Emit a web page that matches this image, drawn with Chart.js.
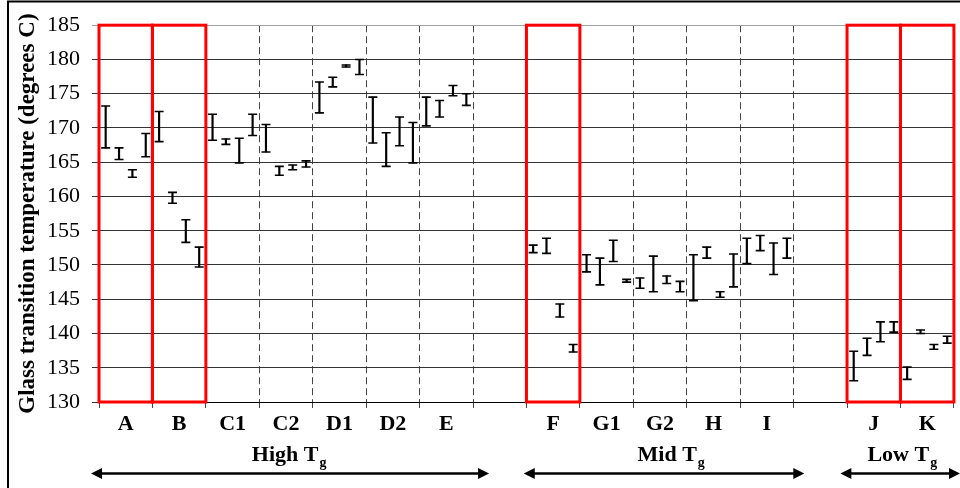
<!DOCTYPE html>
<html>
<head>
<meta charset="utf-8">
<title>Glass transition temperature</title>
<script src="https://cdn.jsdelivr.net/npm/chart.js@4.4.1/dist/chart.umd.min.js"></script>
<style>
  html, body { margin: 0; padding: 0; background: #fff; }
  #wrap { width: 960px; height: 488px; }
</style>
</head>
<body>
<div id="wrap"><canvas id="tgChart" width="960" height="488"></canvas></div>
<script>
// categories along the x axis, '' = empty slot between groups
const categories = ['A', 'B', 'C1', 'C2', 'D1', 'D2', 'E', '', 'F', 'G1', 'G2', 'H', 'I', '', 'J', 'K'];
// categories that get a red box
const boxed = ['A', 'B', 'F', 'J', 'K'];
const groupNames = ['High', 'Mid', 'Low'];

// four measurements per category (low / high end of each bar)
const lows = [
  167.1, 165.4, 162.8, 165.8,   // A
  168.0, 159.0, 153.3, 149.7,   // B
  168.2, 167.6, 164.9, 168.9,   // C1
  166.5, 163.1, 163.9, 164.3,   // C2
  172.2, 176.0, 178.9, 177.8,   // D1
  167.8, 164.4, 167.4, 164.9,   // D2
  170.3, 171.6, 174.7, 173.3,   // E
  null, null, null, null,
  151.8, 151.7, 142.4, 137.3,   // F
  149.0, 147.1, 150.5, 147.5,   // G1
  146.6, 146.1, 147.3, 146.1,   // G2
  144.8, 151.0, 145.3, 146.8,   // H
  150.2, 152.1, 148.6, 151.0,   // I
  null, null, null, null,
  133.1, 136.8, 138.8, 140.2,   // J
  133.3, 140.0, 137.7, 138.6    // K
];
const highs = [
  173.2, 167.1, 163.9, 169.2,   // A
  172.4, 160.6, 156.6, 152.6,   // B
  172.0, 168.4, 168.5, 172.0,   // C1
  170.5, 164.4, 164.6, 165.2,   // C2
  176.7, 177.4, 179.2, 180.0,   // D1
  174.5, 169.3, 171.6, 170.8,   // D2
  174.5, 174.0, 176.2, 175.0,   // E
  null, null, null, null,
  152.9, 153.9, 144.3, 138.4,   // F
  151.5, 151.0, 153.6, 147.9,   // G1
  148.1, 151.3, 148.4, 147.6,   // G2
  151.5, 152.6, 146.1, 151.6,   // H
  153.9, 154.3, 153.2, 153.9,   // I
  null, null, null, null,
  137.4, 139.3, 141.7, 141.7,   // J
  135.1, 140.5, 138.4, 139.6    // K
];
const yTicks = [130, 135, 140, 145, 150, 155, 160, 165, 170, 175, 180, 185];

const SERIF = "'Liberation Serif', 'Times New Roman', serif";
const PER_CAT = 4;

function buildPoints(values) {
  const pts = [];
  values.forEach((v, i) => {
    if (v !== null) pts.push({ x: i + 0.5, y: v });
  });
  return pts;
}

function buildBars() {
  const bars = [];
  lows.forEach((lo, i) => {
    if (lo !== null) bars.push({ x: i + 0.5, y: [lo, highs[i]] });
  });
  return bars;
}

// red boxes, group captions with double arrows, outer frame
const decorPlugin = {
  id: 'decor',
  beforeDraw(chart) {
    const ctx = chart.ctx;
    ctx.save();
    ctx.fillStyle = '#fff';
    ctx.fillRect(0, 0, chart.width, chart.height);
    ctx.strokeStyle = '#000';
    ctx.lineWidth = 2;
    ctx.beginPath();
    ctx.moveTo(8, chart.height);
    ctx.lineTo(8, 1.5);
    ctx.lineTo(chart.width, 1.5);
    ctx.stroke();
    ctx.restore();
  },
  afterDatasetsDraw(chart) {
    const ctx = chart.ctx;
    const xs = chart.scales.x;
    const ys = chart.scales.y;
    const top = ys.getPixelForValue(185);
    const bottom = ys.getPixelForValue(130);
    ctx.save();
    ctx.strokeStyle = '#ff0000';
    ctx.lineWidth = 3;
    categories.forEach((c, i) => {
      if (!boxed.includes(c)) return;
      const x1 = xs.getPixelForValue(i * PER_CAT);
      const x2 = xs.getPixelForValue((i + 1) * PER_CAT);
      ctx.strokeRect(x1, top, x2 - x1, bottom - top);
    });
    ctx.restore();
  },
  afterDraw(chart) {
    const ctx = chart.ctx;
    const xs = chart.scales.x;
    // [caption centre, arrow start, arrow end] in x-axis units
    const spans = [[14.2, -0.6, 29.2], [42.8, 31.8, 52.8], [60.1, 55.5, 64.5]];
    ctx.save();
    ctx.fillStyle = '#000';
    ctx.strokeStyle = '#000';
    groupNames.forEach((name, k) => {
      const s = spans[k];
      const cx = xs.getPixelForValue(s[0]);
      const main = name + ' T';
      ctx.font = 'bold 22px ' + SERIF;
      const w1 = ctx.measureText(main).width;
      ctx.font = 'bold 14px ' + SERIF;
      const w2 = ctx.measureText('g').width;
      const x0 = cx - (w1 + w2) / 2;
      ctx.textBaseline = 'alphabetic';
      ctx.textAlign = 'left';
      ctx.font = 'bold 22px ' + SERIF;
      ctx.fillText(main, x0, 461);
      ctx.font = 'bold 14px ' + SERIF;
      ctx.fillText('g', x0 + w1 + 1, 467);

      const a = xs.getPixelForValue(s[1]);
      const b = Math.min(xs.getPixelForValue(s[2]), chart.width);
      const y = 473.5;
      ctx.lineWidth = 2.5;
      ctx.beginPath();
      ctx.moveTo(a + 8, y);
      ctx.lineTo(b - 8, y);
      ctx.stroke();
      ctx.beginPath();
      ctx.moveTo(a, y);
      ctx.lineTo(a + 11, y - 5.5);
      ctx.lineTo(a + 11, y + 5.5);
      ctx.closePath();
      ctx.fill();
      ctx.beginPath();
      ctx.moveTo(b, y);
      ctx.lineTo(b - 11, y - 5.5);
      ctx.lineTo(b - 11, y + 5.5);
      ctx.closePath();
      ctx.fill();
    });
    ctx.restore();
  }
};

const capStyle = {
  type: 'scatter',
  pointStyle: 'line',
  pointRadius: 4.5,
  pointBorderWidth: 1.6,
  borderColor: '#000',
  backgroundColor: '#000'
};

new Chart(document.getElementById('tgChart'), {
  type: 'bar',
  data: {
    datasets: [
      {
        type: 'bar',
        data: buildBars(),
        backgroundColor: '#000',
        borderWidth: 0,
        barThickness: 1.5
      },
      Object.assign({ data: buildPoints(lows) }, capStyle),
      Object.assign({ data: buildPoints(highs) }, capStyle)
    ]
  },
  options: {
    responsive: false,
    animation: false,
    devicePixelRatio: 1,
    layout: { padding: { left: 10, top: 24, right: 5, bottom: 0 } },
    plugins: {
      legend: { display: false },
      tooltip: { enabled: false }
    },
    scales: {
      x: {
        type: 'linear',
        min: 0,
        max: categories.length * PER_CAT,
        offset: false,
        afterBuildTicks: scale => {
          const t = [];
          for (let v = 0; v <= categories.length * PER_CAT; v += PER_CAT / 2) t.push({ value: v });
          scale.ticks = t;
        },
        afterFit: scale => { scale.height = 86; },
        ticks: {
          autoSkip: false,
          maxRotation: 0,
          padding: 3,
          color: '#000',
          font: { family: SERIF, size: 22, weight: 'bold' },
          callback: v => (v % PER_CAT === PER_CAT / 2 ? categories[(v - PER_CAT / 2) / PER_CAT] : '')
        },
        grid: {
          offset: false,
          color: c => (c.tick && c.tick.value % PER_CAT === 0 ? '#444' : 'rgba(0,0,0,0)'),
          lineWidth: 1,
          tickLength: 6
        },
        border: { display: true, color: '#000', width: 1, dash: [7, 4] }
      },
      y: {
        min: 130,
        max: 185,
        afterBuildTicks: scale => { scale.ticks = yTicks.map(v => ({ value: v })); },
        afterFit: scale => { scale.width = 89; },
        ticks: {
          padding: 12,
          color: '#000',
          font: { family: SERIF, size: 22 }
        },
        grid: {
          color: c => (c.tick && c.tick.value === 185 ? '#a0a0a0' : '#333'),
          lineWidth: 1,
          tickLength: 7
        },
        border: { display: true, color: '#000', width: 1 },
        title: {
          display: true,
          text: 'Glass transition temperature (degrees C)',
          color: '#000',
          font: { family: SERIF, size: 23, weight: 'bold' },
          padding: { top: 4, bottom: 0 }
        }
      }
    }
  },
  plugins: [decorPlugin]
});
</script>
</body>
</html>
